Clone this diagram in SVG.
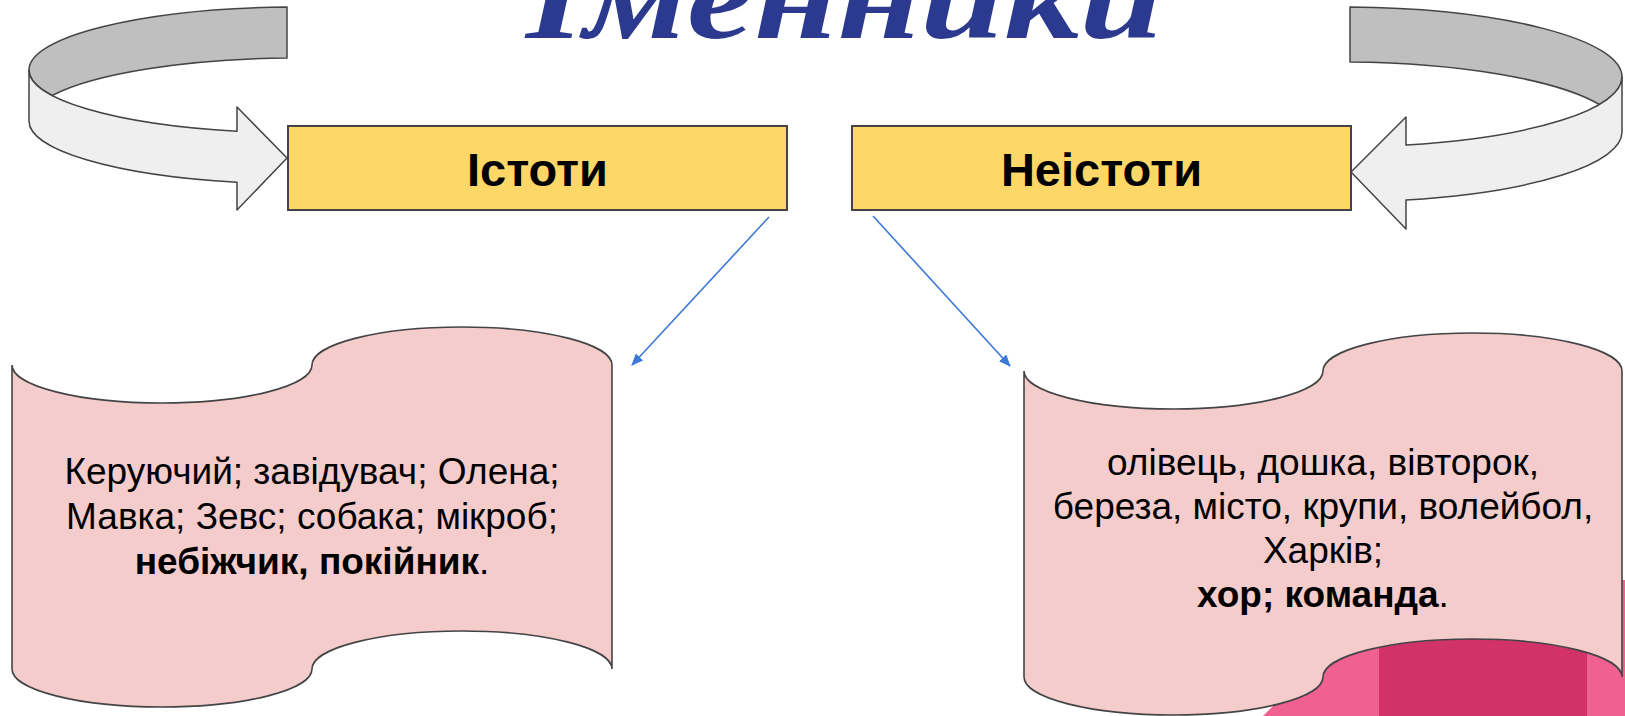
<svg xmlns="http://www.w3.org/2000/svg" width="1625" height="716" viewBox="0 0 1625 716">
<style>
.band{stroke:#444;stroke-width:1.5;stroke-linejoin:round}
.box{fill:#FDD868;stroke:#444;stroke-width:2}
.scroll{fill:#F4CCCC;stroke:#444;stroke-width:1.6}
.hdr{font-family:"Liberation Sans",Arial,sans-serif;font-weight:bold;font-size:47px;fill:#000;text-anchor:middle}
.body{font-family:"Liberation Sans",Arial,sans-serif;font-size:37px;fill:#000;text-anchor:middle}
.b{font-weight:bold}
.conn{stroke:#3C78D8;stroke-width:1.6;fill:none}
</style>
<defs>
<marker id="ah" viewBox="0 0 12 10" refX="11" refY="5" markerWidth="12" markerHeight="10" markerUnits="userSpaceOnUse" orient="auto">
<path d="M0,0 L12,5 L0,10 Z" fill="#3C78D8"/>
</marker>
</defs>
<rect width="1625" height="716" fill="#fff"/>
<g id="decor">
<polygon points="1263,716 1400,580 1625,580 1625,716" fill="#F06090"/>
<rect x="1379" y="580" width="208" height="136" fill="#D13368"/>
</g>
<text id="title" x="526" y="38" font-family="Liberation Serif,serif" font-weight="bold" font-style="italic" font-size="120" textLength="637" lengthAdjust="spacingAndGlyphs" fill="#2B3A8F">Іменники</text>
<g id="arrow-left">
<path class="band" fill="#BFBFBF" d="M287,7 A271,63 0 0 0 29,70 A271,63 0 0 0 52.2,95.5 A271,63 0 0 1 287,58 Z"/>
<path class="band" fill="#EFEFEF" d="M29,70 A271,63 0 0 0 237,131.3 L237,107 L287,158 L237,210 L237,182.3 A271,63 0 0 1 29,121 Z"/>
</g>
<g id="arrow-right">
<path class="band" fill="#BFBFBF" d="M1350,7 A282,70 0 0 1 1622,77 A282,70 0 0 1 1599.4,104.5 A282,70 0 0 0 1350,62 Z"/>
<path class="band" fill="#EFEFEF" d="M1622,77 A282,70 0 0 1 1406,145 L1406,117 L1351,172 L1406,229 L1406,200 A282,70 0 0 0 1622,132 Z"/>
</g>
<g id="istoty">
<rect class="box" x="288" y="126" width="499" height="84"/>
<text class="hdr" x="537.5" y="186">Істоти</text>
</g>
<g id="neistoty">
<rect class="box" x="852" y="126" width="499" height="84"/>
<text class="hdr" x="1101.5" y="186">Неістоти</text>
</g>
<g id="connectors">
<line class="conn" x1="769" y1="217" x2="632" y2="365" marker-end="url(#ah)"/>
<line class="conn" x1="873" y1="216" x2="1010" y2="366" marker-end="url(#ah)"/>
</g>
<g id="scroll-left">
<path class="scroll" d="M12,365 A150,38 0 0 0 312,365 A150,38 0 0 1 612,365 L612,669 A150,38 0 0 0 312,669 A150,38 0 0 1 12,669 Z"/>
<text class="body" x="312" y="484">Керуючий; завідувач; Олена;</text>
<text class="body" x="312" y="529">Мавка; Зевс; собака; мікроб;</text>
<text class="body" x="312" y="574"><tspan class="b">небіжчик, покійник</tspan>.</text>
</g>
<g id="scroll-right">
<path class="scroll" d="M1024,371 A149.5,38 0 0 0 1323,371 A149.5,38 0 0 1 1622,371 L1622,677 A149.5,38 0 0 0 1323,677 A149.5,38 0 0 1 1024,677 Z"/>
<text class="body" x="1323" y="475">олівець, дошка, вівторок,</text>
<text class="body" x="1323" y="519">береза, місто, крупи, волейбол,</text>
<text class="body" x="1323" y="563">Харків;</text>
<text class="body" x="1323" y="607"><tspan class="b">хор; команда</tspan>.</text>
</g>
</svg>
